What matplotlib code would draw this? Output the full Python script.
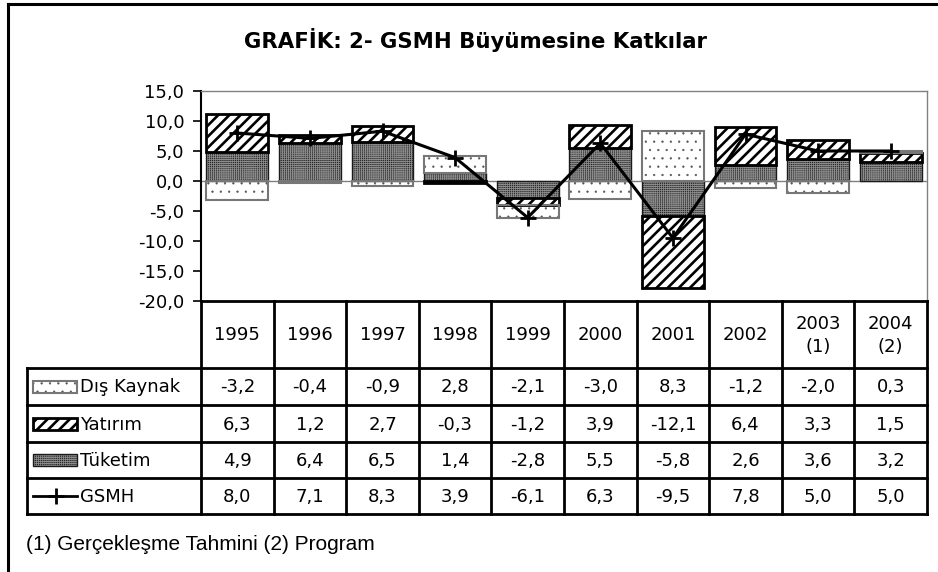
import matplotlib
matplotlib.use("Agg")
import matplotlib.pyplot as plt
import numpy as np
from matplotlib.patches import Rectangle
from matplotlib.lines import Line2D

# Veriler
yillar = ["1995", "1996", "1997", "1998", "1999", "2000", "2001", "2002", "2003\n(1)", "2004\n(2)"]
dis_kaynak = [-3.2, -0.4, -0.9, 2.8, -2.1, -3.0, 8.3, -1.2, -2.0, 0.3]
yatirim = [6.3, 1.2, 2.7, -0.3, -1.2, 3.9, -12.1, 6.4, 3.3, 1.5]
tuketim = [4.9, 6.4, 6.5, 1.4, -2.8, 5.5, -5.8, 2.6, 3.6, 3.2]
gsmh = [8.0, 7.1, 8.3, 3.9, -6.1, 6.3, -9.5, 7.8, 5.0, 5.0]

baslik = "GRAFİK: 2- GSMH Büyümesine Katkılar"
dipnot = "(1) Gerçekleşme Tahmini (2) Program"

# Seri stilleri: (etiket, değerler, zemin, tarama, tarama rengi, tarama kalınlığı, kenar rengi, kenar kalınlığı)
seriler = [
    ("Tüketim", tuketim, "#262626", "++++++++", "#8c8c8c", 0.6, "#1a1a1a", 1.0),
    ("Yatırım", yatirim, "white", "///", "black", 1.9, "black", 2.0),
    ("Dış Kaynak", dis_kaynak, "white", "..", "#555555", 0.4, "#777777", 1.5),
]

W, H = 938, 572
fig = plt.figure(figsize=(W / 100, H / 100), dpi=100)
plt.rcParams["font.family"] = ["DejaVu Sans"]


def px(x0, y0, x1, y1):
    # piksel kutusunu figür koordinatlarına çevir
    return [x0 / W, 1 - y1 / H, (x1 - x0) / W, (y1 - y0) / H]


def tarama_kalinligi(p, lw):
    if hasattr(p, "set_hatch_linewidth"):
        p.set_hatch_linewidth(lw)


plt.rcParams["hatch.linewidth"] = 1.0

SOL, SAG, UST, ALT = 201, 927, 91, 301
ax = fig.add_axes(px(SOL, UST, SAG, ALT))
n = len(yillar)
x = np.arange(n)
genislik = 0.85

poz_alt = np.zeros(n)
neg_alt = np.zeros(n)
for etiket, degerler, zemin, tarama, tarama_renk, tkl, kenar, kl in seriler:
    d = np.array(degerler)
    alt = np.where(d >= 0, poz_alt, neg_alt)
    dolgu = ax.bar(x, d, genislik, bottom=alt, color=zemin, hatch=tarama,
                   edgecolor=tarama_renk, linewidth=0, zorder=2)
    for p in dolgu:
        tarama_kalinligi(p, tkl)
    ax.bar(x, d, genislik, bottom=alt, fill=False, edgecolor=kenar,
           linewidth=kl, zorder=3)
    poz_alt = poz_alt + np.where(d >= 0, d, 0)
    neg_alt = neg_alt + np.where(d < 0, d, 0)

ax.plot(x, gsmh, color="black", linewidth=2.2, marker="+", markersize=11,
        markeredgewidth=2, zorder=5)
ax.axhline(0, color="#808080", linewidth=1, zorder=1)

ax.set_xlim(-0.5, n - 0.5)
ax.set_ylim(-20, 15)
ax.set_yticks(np.arange(-20, 16, 5))
ax.set_yticklabels([f"{v:.1f}".replace(".", ",") for v in np.arange(-20, 16, 5)],
                   fontsize=13)
ax.tick_params(axis="y", direction="out", length=6, width=1.2, pad=6)
ax.set_xticks([])
ax.spines["left"].set_linewidth(1.5)
ax.spines["bottom"].set_visible(False)
for s in ["top", "right"]:
    ax.spines[s].set_color("#808080")
    ax.spines[s].set_linewidth(1)
ax.patch.set_alpha(0)

# Tablo ve çerçeve için figür kaplayan eksen (piksel koordinatlı)
ov2 = fig.add_axes([0, 0, 1, 1], zorder=3)
ov2.set_xlim(0, W)
ov2.set_ylim(H, 0)
ov2.axis("off")

# dış çerçeve
ov2.plot([8, W], [4, 4], color="black", linewidth=2.2)
ov2.plot([8, 8], [4, H], color="black", linewidth=2.2)

ov2.text(475, 40, baslik, ha="center", va="center", fontsize=15.3,
         fontweight="bold")

sutun_w = (SAG - SOL) / n
satir_y = [301, 368, 405, 442, 478, 514]
etiket_sol = 27
tlw = 2.0

# yatay çizgiler
ov2.plot([SOL, SAG], [satir_y[0], satir_y[0]], color="black", lw=tlw)
for yy in satir_y[1:]:
    ov2.plot([etiket_sol, SAG], [yy, yy], color="black", lw=tlw)
# dikey çizgiler
for i in range(n + 1):
    xx = SOL + i * sutun_w
    ov2.plot([xx, xx], [satir_y[0], satir_y[-1]], color="black", lw=tlw)
ov2.plot([etiket_sol, etiket_sol], [satir_y[1], satir_y[-1]], color="black", lw=tlw)

for i, yil in enumerate(yillar):
    ov2.text(SOL + (i + 0.5) * sutun_w, (satir_y[0] + satir_y[1]) / 2 + 1, yil,
             ha="center", va="center", fontsize=13, linespacing=1.3)

tablo_satirlari = [
    ("Dış Kaynak", dis_kaynak, seriler[2]),
    ("Yatırım", yatirim, seriler[1]),
    ("Tüketim", tuketim, seriler[0]),
    ("GSMH", gsmh, None),
]
for r, (etiket, degerler, stil) in enumerate(tablo_satirlari):
    y0, y1 = satir_y[r + 1], satir_y[r + 2]
    ym = (y0 + y1) / 2
    for i, v in enumerate(degerler):
        ov2.text(SOL + (i + 0.5) * sutun_w, ym + 1, f"{v:.1f}".replace(".", ","),
                 ha="center", va="center", fontsize=13)
    ov2.text(80, ym + 1, etiket, ha="left", va="center", fontsize=13)
    if stil is None:
        ov2.add_line(Line2D([33, 77], [ym, ym], color="black", lw=2))
        ov2.plot([56], [ym], marker="+", color="black", markersize=11, mew=2)
    else:
        _, _, zemin, tarama, tarama_renk, tkl, kenar, kl = stil
        rp = Rectangle((33, ym - 6), 44, 12, facecolor=zemin, hatch=tarama,
                       edgecolor=tarama_renk, linewidth=0)
        tarama_kalinligi(rp, tkl)
        ov2.add_patch(rp)
        ov2.add_patch(Rectangle((33, ym - 6), 44, 12, fill=False, edgecolor=kenar,
                                linewidth=kl))

ov2.text(26, 545, dipnot, ha="left", va="center", fontsize=15,
         family=["Liberation Sans", "DejaVu Sans"])

fig.savefig("out.png", dpi=100)
